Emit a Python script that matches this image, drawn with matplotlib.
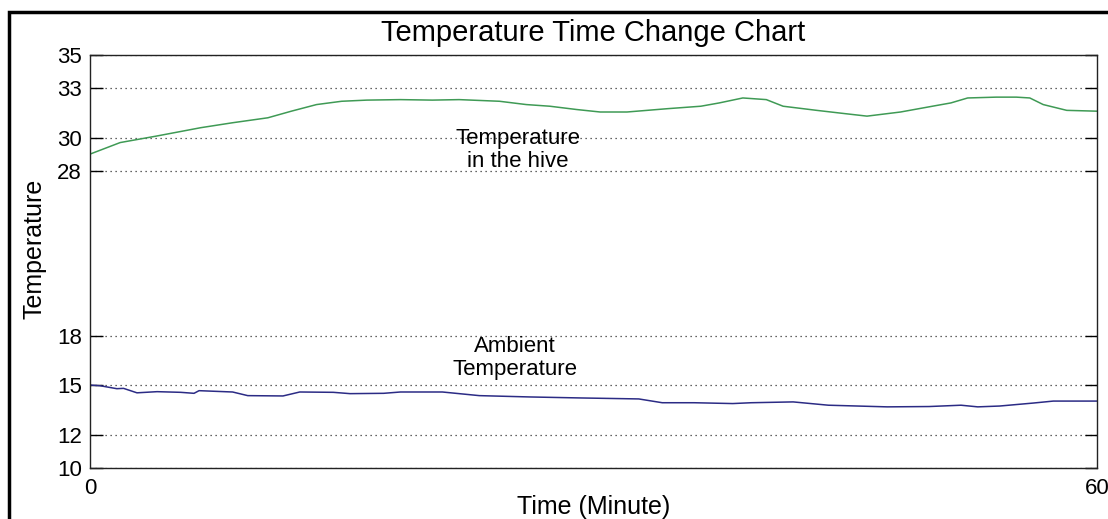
import matplotlib
matplotlib.use("Agg")
import matplotlib.pyplot as plt
from matplotlib.patches import Rectangle

plt.rcParams['font.family'] = ['Liberation Sans', 'DejaVu Sans']

# minutes / degrees
hive_t = [0, 1.8, 4, 6.6, 8.5, 10.6, 12, 13.5, 15, 16.5, 18.5, 20.4, 22, 24.4, 26,
          27.4, 29, 30.4, 32, 34.4, 36.4, 37.5, 38.9, 40.3, 41.3, 43.3, 45, 46.3,
          48.3, 50.2, 51.3, 52.3, 54, 55.2, 56, 56.8, 58.2, 60]
hive_temp = [29.0, 29.7, 30.1, 30.6, 30.9, 31.2, 31.6, 32.0, 32.2, 32.27, 32.3, 32.27,
             32.3, 32.2, 32.0, 31.9, 31.7, 31.55, 31.55, 31.75, 31.9, 32.1, 32.4, 32.3,
             31.9, 31.65, 31.45, 31.3, 31.55, 31.9, 32.1, 32.4, 32.45, 32.45, 32.4,
             32.0, 31.65, 31.6]

amb_t = [0, 0.6, 1.6, 2, 2.8, 4, 5.4, 6.2, 6.5, 8.5, 9.4, 11.5, 12.5, 14.5, 15.5,
         17.5, 18.5, 21, 23.2, 26.2, 29.2, 32.7, 34.1, 36, 38.3, 39.4, 41.9, 44,
         47.5, 50, 51.9, 52.9, 54.2, 56.2, 57.4, 60]
amb_temp = [15.02, 14.98, 14.8, 14.82, 14.55, 14.62, 14.58, 14.52, 14.68, 14.6, 14.38,
            14.36, 14.6, 14.58, 14.5, 14.52, 14.6, 14.6, 14.38, 14.3, 14.24, 14.18,
            13.95, 13.95, 13.9, 13.95, 14.0, 13.8, 13.7, 13.72, 13.8, 13.7, 13.75,
            13.93, 14.05, 14.05]

yticks = [10, 12, 15, 18, 28, 30, 33, 35]
xticks = [0, 60]

fig = plt.figure(figsize=(11.08, 5.19), dpi=100)
ax = fig.add_axes([0.0812, 0.0983, 0.9088, 0.7957])

ax.plot(hive_t, hive_temp, color='#3f9a55', lw=1.1)
ax.plot(amb_t, amb_temp, color='#2b2b85', lw=1.1)

ax.set_xlim(0, 60)
ax.set_ylim(10, 35)
ax.set_xticks(xticks)
ax.set_yticks(yticks)
ax.yaxis.grid(True, linestyle=(0, (1, 3)), color='#333333', lw=0.9)
ax.tick_params(axis='y', direction='in', length=9, width=1, left=True, right=True,
               labelsize=16, pad=6)
ax.tick_params(axis='x', direction='in', length=0, labelsize=16, pad=7)
for s in ax.spines.values():
    s.set_linewidth(1.0)
    s.set_color('#222222')

ax.set_title('Temperature Time Change Chart', fontsize=21, pad=10)
ax.set_xlabel('Time (Minute)', fontsize=18, labelpad=-3)
ax.set_ylabel('Temperature', fontsize=18)
ax.yaxis.set_label_coords(-0.043, 0.53)

ax.text(25.5, 29.25, 'Temperature\nin the hive', ha='center', va='center',
        fontsize=16, linespacing=1.15)
ax.text(25.3, 16.65, 'Ambient\nTemperature', ha='center', va='center',
        fontsize=16, linespacing=1.15)

# outer frame, cut off at right and bottom like the source image
fig.patches.append(Rectangle((9 / 1108, -0.1), 1.2, 1 - 12 / 519 + 0.1,
                             transform=fig.transFigure, fill=False,
                             edgecolor='black', lw=2.5, clip_on=False))

fig.savefig('out.png', dpi=100)
